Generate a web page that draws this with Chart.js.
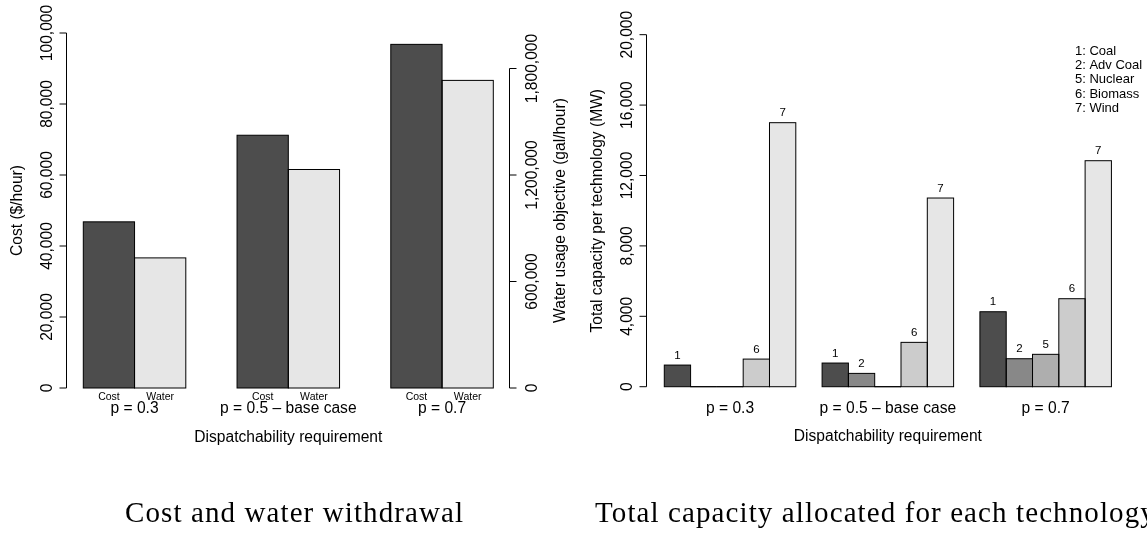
<!DOCTYPE html>
<html>
<head>
<meta charset="utf-8">
<script src="https://cdn.jsdelivr.net/npm/chart.js@4"></script>
<style>
  html, body { margin: 0; padding: 0; background: #fff; overflow: hidden; width: 1147px; height: 533px; }
  #wrap { position: relative; width: 1147px; height: 533px; }
  canvas { position: absolute; top: 0; }
  #costChart { left: 0; }
  #capChart { left: 580px; }
  .caption { position: absolute; top: 498px; font-family: "Liberation Serif", "Times New Roman", serif;
             font-size: 29px; line-height: 29px; letter-spacing: 1.1px; white-space: nowrap; color: #000; }
</style>
</head>
<body>
<div id="wrap">
  <canvas id="costChart" width="580" height="533"></canvas>
  <canvas id="capChart" width="567" height="533"></canvas>
  <div class="caption" style="left:125px">Cost and water withdrawal</div>
  <div class="caption" style="left:595px">Total capacity allocated for each technology</div>
</div>
<script>
// ---- data ----
const scenarios = ['p = 0.3', 'p = 0.5 \u2013 base case', 'p = 0.7'];

// objective values per scenario
const objectiveNames = ['Cost', 'Water'];
const costPerHour = [46800, 71200, 96800];        // $/hour
const waterPerHour = [733000, 1231000, 1733000];  // gal/hour
const costTicks = [0, 20000, 40000, 60000, 80000, 100000];
const waterTicks = [0, 600000, 1200000, 1800000];

// installed capacity per technology (MW)
const techNumbers = ['1', '2', '5', '6', '7'];
const techNames = ['Coal', 'Adv Coal', 'Nuclear', 'Biomass', 'Wind'];
const coalMW = [1230, 1345, 4260];
const advCoalMW = [0, 757, 1590];
const nuclearMW = [0, 0, 1840];
const biomassMW = [1570, 2520, 5000];
const windMW = [15000, 10720, 12840];
const capacityTicks = [0, 4000, 8000, 12000, 16000, 20000];

// ---- styling ----
const SANS = '"Liberation Sans", Arial, Helvetica, sans-serif';
const FONT_MAIN = '15.6px ' + SANS;
const FONT_SMALL = '10.5px ' + SANS;
const FONT_NUMBER = '11.5px ' + SANS;
const FONT_LEGEND = '13px ' + SANS;
const costColors = ['#4D4D4D', '#E6E6E6'];
const techColors = ['#4D4D4D', '#888888', '#AEAEAE', '#CCCCCC', '#E6E6E6'];

// grouped barplot geometry: bars are one unit wide, one unit gap before each group
function groupCenters(nGroups, nBars) {
  return Array.from({ length: nGroups }, (_, i) => i * (nBars + 1) + 1 + nBars / 2);
}
function unitRange(nGroups, nBars) {
  const lo = 1, hi = nGroups * (nBars + 1);
  const pad = 0.04 * (hi - lo);
  return { min: lo - pad, max: hi + pad };
}
function padded(maxValue) {
  return { min: -0.04 * maxValue, max: 1.04 * maxValue };
}
const fmt = v => String(v).replace(/\B(?=(\d{3})+(?!\d))/g, ',');
const crisp = v => Math.round(v - 0.5) + 0.5;

function rotatedText(ctx, text, x, y, baseline) {
  ctx.save();
  ctx.translate(x, y);
  ctx.rotate(-Math.PI / 2);
  ctx.textAlign = 'center';
  ctx.textBaseline = baseline;
  ctx.fillText(text, 0, 0);
  ctx.restore();
}

// axis line spanning first to last tick, outward tick marks, labels parallel to the axis
function drawAxis(ctx, scale, ticks, xPos, side, labelOffset) {
  const x = crisp(xPos);
  ctx.save();
  ctx.strokeStyle = '#000';
  ctx.lineWidth = 1;
  ctx.beginPath();
  ctx.moveTo(x, scale.getPixelForValue(ticks[0]));
  ctx.lineTo(x, scale.getPixelForValue(ticks[ticks.length - 1]));
  ticks.forEach(v => {
    const y = scale.getPixelForValue(v);
    ctx.moveTo(x, y);
    ctx.lineTo(x + side * 7, y);
  });
  ctx.stroke();
  ctx.fillStyle = '#000';
  ctx.font = FONT_MAIN;
  ticks.forEach(v => rotatedText(ctx, fmt(v), x + side * labelOffset, scale.getPixelForValue(v), 'alphabetic'));
  ctx.restore();
}

// black outline around every bar (zero bars become a line on the base)
const barOutline = {
  id: 'barOutline',
  afterDatasetsDraw(chart) {
    const ctx = chart.ctx;
    ctx.save();
    ctx.strokeStyle = '#000';
    ctx.lineWidth = 1;
    chart.data.datasets.forEach((ds, d) => {
      chart.getDatasetMeta(d).data.forEach(bar => {
        const { x, y, base, width } = bar.getProps(['x', 'y', 'base', 'width'], true);
        ctx.strokeRect(x - width / 2, Math.min(y, base), width, Math.abs(base - y));
      });
    });
    ctx.restore();
  }
};

function commonOptions(padding, xRange, centers, yScales) {
  const scales = {
    x: {
      type: 'linear', display: false, offset: false, grid: { offset: false },
      min: xRange.min, max: xRange.max,
      afterBuildTicks: s => { s.ticks = centers.map(v => ({ value: v })); }
    }
  };
  Object.assign(scales, yScales);
  return {
    responsive: false, animation: false, devicePixelRatio: 1,
    layout: { padding, autoPadding: false },
    plugins: { legend: { display: false }, tooltip: { enabled: false } },
    scales
  };
}

// ---- cost and water chart ----
const costCenters = groupCenters(scenarios.length, objectiveNames.length);
const costX = unitRange(scenarios.length, objectiveNames.length);
const costRange = padded(100000);
const waterRange = padded(2000000);

new Chart(document.getElementById('costChart'), {
  type: 'bar',
  data: {
    datasets: [
      { label: objectiveNames[0], yAxisID: 'y', data: costPerHour.map((v, i) => ({ x: costCenters[i], y: v })),
        backgroundColor: costColors[0], borderWidth: 0, categoryPercentage: 2 / 3, barPercentage: 1 },
      { label: objectiveNames[1], yAxisID: 'y2', data: waterPerHour.map((v, i) => ({ x: costCenters[i], y: v })),
        backgroundColor: costColors[1], borderWidth: 0, categoryPercentage: 2 / 3, barPercentage: 1 }
    ]
  },
  options: commonOptions({ left: 66.9, right: 70.3, top: 18.8, bottom: 130.8 }, costX, costCenters, {
    y: { type: 'linear', display: false, min: costRange.min, max: costRange.max },
    y2: { type: 'linear', display: false, position: 'right', min: waterRange.min, max: waterRange.max }
  }),
  plugins: [barOutline, {
    id: 'costAnnotations',
    afterDraw(chart) {
      const { ctx, chartArea: a, scales } = chart;
      drawAxis(ctx, scales.y, costTicks, a.left, -1, 15);
      drawAxis(ctx, scales.y2, waterTicks, a.right, 1, 27.5);
      ctx.save();
      ctx.fillStyle = '#000';
      ctx.font = FONT_MAIN;
      const midY = (a.top + a.bottom) / 2;
      rotatedText(ctx, 'Cost ($/hour)', a.left - 49.5, midY, 'middle');
      rotatedText(ctx, 'Water usage objective (gal/hour)', a.right + 51, midY, 'middle');
      const y0 = scales.y.getPixelForValue(0);
      ctx.textAlign = 'center';
      ctx.textBaseline = 'alphabetic';
      ctx.font = FONT_SMALL;
      chart.data.datasets.forEach((ds, d) => {
        chart.getDatasetMeta(d).data.forEach(bar => ctx.fillText(objectiveNames[d], bar.x, y0 + 12));
      });
      ctx.font = FONT_MAIN;
      scenarios.forEach((s, i) => ctx.fillText(s, scales.x.getPixelForValue(costCenters[i]), y0 + 25));
      ctx.fillText('Dispatchability requirement', (a.left + a.right) / 2, a.bottom + 40);
      ctx.restore();
    }
  }]
});

// ---- capacity per technology chart ----
const techSeries = [coalMW, advCoalMW, nuclearMW, biomassMW, windMW];
const capCenters = groupCenters(scenarios.length, techSeries.length);
const capX = unitRange(scenarios.length, techSeries.length);
const capRange = padded(20000);

new Chart(document.getElementById('capChart'), {
  type: 'bar',
  data: {
    datasets: techSeries.map((vals, d) => ({
      label: techNames[d],
      data: vals.map((v, i) => ({ x: capCenters[i], y: v })),
      backgroundColor: techColors[d], borderWidth: 0,
      categoryPercentage: 5 / 6, barPercentage: 1
    }))
  },
  options: commonOptions({ left: 66.4, right: 17.7, top: 20.6, bottom: 132.2 }, capX, capCenters, {
    y: { type: 'linear', display: false, min: capRange.min, max: capRange.max }
  }),
  plugins: [barOutline, {
    id: 'capAnnotations',
    afterDraw(chart) {
      const { ctx, chartArea: a, scales } = chart;
      drawAxis(ctx, scales.y, capacityTicks, a.left, -1, 14.5);
      ctx.save();
      ctx.fillStyle = '#000';
      ctx.font = FONT_MAIN;
      rotatedText(ctx, 'Total capacity per technology (MW)', a.left - 49, (a.top + a.bottom) / 2, 'middle');
      ctx.textAlign = 'center';
      ctx.textBaseline = 'alphabetic';
      ctx.font = FONT_NUMBER;
      techSeries.forEach((vals, d) => {
        chart.getDatasetMeta(d).data.forEach((bar, i) => {
          if (vals[i] > 0) ctx.fillText(techNumbers[d], bar.x, bar.y - 6.5);
        });
      });
      const y0 = scales.y.getPixelForValue(0);
      ctx.font = FONT_MAIN;
      scenarios.forEach((s, i) => ctx.fillText(s, scales.x.getPixelForValue(capCenters[i]), y0 + 26));
      ctx.fillText('Dispatchability requirement', (a.left + a.right) / 2, a.bottom + 40);
      // technology key
      ctx.textAlign = 'left';
      ctx.font = FONT_LEGEND;
      techNames.forEach((n, d) => ctx.fillText(techNumbers[d] + ': ' + n, 495, 55 + 14.2 * d));
      ctx.restore();
    }
  }]
});
</script>
</body>
</html>
